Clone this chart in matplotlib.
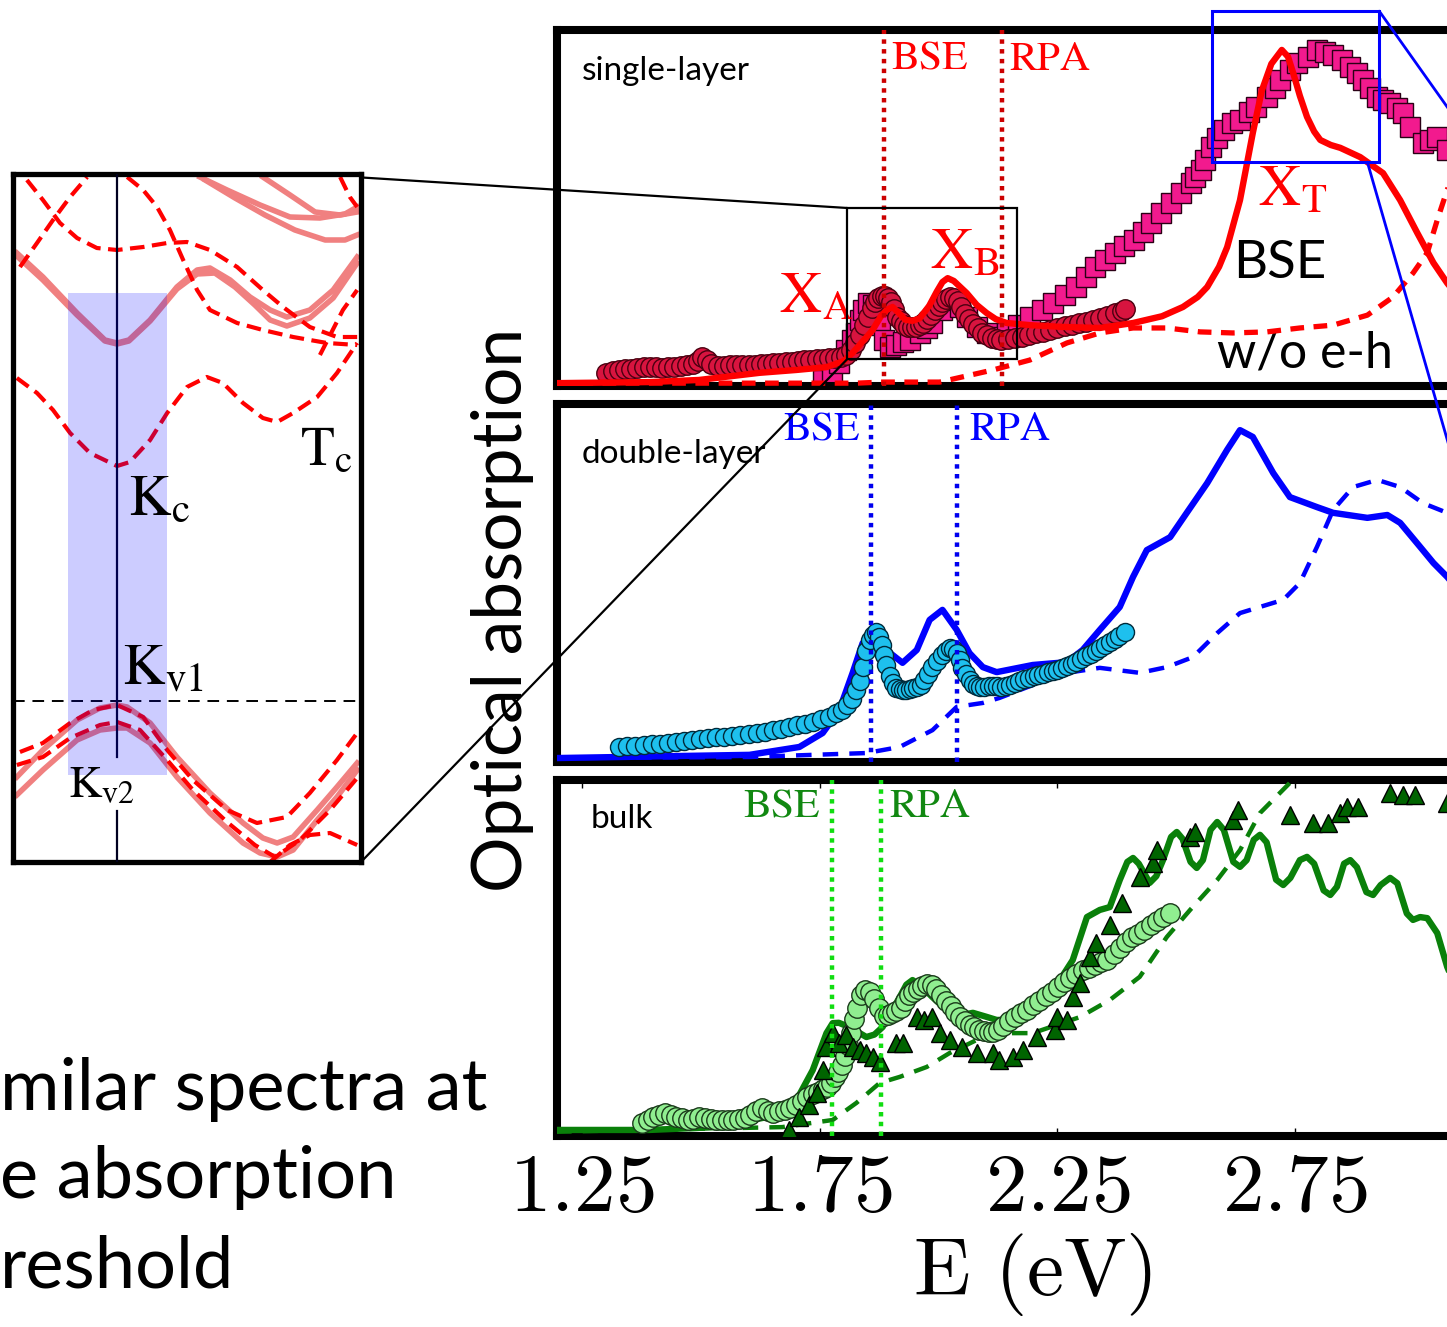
import matplotlib
matplotlib.use('Agg')
import matplotlib.pyplot as plt
from matplotlib.patches import Rectangle, ConnectionPatch

plt.rcParams['mathtext.fontset'] = 'cm'

# ---------------- data: single layer (energies in eV, absorption in panel units) ----
E1_bse = [1.195,1.391,1.496,1.623,1.700,1.764,1.800,1.819,1.840,1.861,
          1.878,1.890,1.903,1.916,1.930,1.945,1.960,1.980,1.996,2.008,
          2.019,2.032,2.059,2.080,2.101,2.120,2.143,2.192,2.260,2.339,
          2.409,2.470,2.514,2.545,2.565,2.590,2.607,2.634,2.661,2.680,
          2.700,2.722,2.735,2.746,2.760,2.775,2.790,2.803,2.825,2.845,
          2.887,2.935,2.971,3.007,3.041,3.070,3.10]
A1_bse = [0.008,0.011,0.017,0.037,0.045,0.053,0.070,0.093,0.125,0.157,
          0.195,0.213,0.222,0.205,0.186,0.183,0.190,0.225,0.265,0.292,
          0.303,0.295,0.261,0.228,0.205,0.188,0.177,0.171,0.166,0.163,
          0.177,0.196,0.222,0.250,0.278,0.335,0.390,0.522,0.711,0.830,
          0.905,0.944,0.925,0.879,0.815,0.756,0.715,0.691,0.677,0.669,
          0.643,0.598,0.522,0.430,0.346,0.289,0.24]
E1_rpa = [1.195,1.743,1.827,1.882,2.002,2.114,2.192,2.270,2.339,2.409,2.480,2.550,2.619,2.691,2.760,2.830,2.902,2.956,2.998,3.028,3.049,3.070,3.09]
A1_rpa = [0.008,0.008,0.008,0.011,0.011,0.045,0.073,0.121,0.149,0.163,0.163,0.152,0.149,0.152,0.163,0.171,0.199,0.250,0.317,0.374,0.466,0.551,0.62]
E1_circ = [1.301,1.314,1.327,1.340,1.353,1.366,1.379,1.392,1.405,1.418,
           1.431,1.444,1.457,1.470,1.483,1.494,1.503,1.512,1.522,1.535,
           1.548,1.561,1.574,1.587,1.600,1.613,1.626,1.639,1.652,1.665,
           1.678,1.691,1.704,1.717,1.730,1.743,1.756,1.769,1.782,1.795,
           1.806,1.816,1.825,1.834,1.843,1.851,1.859,1.866,1.873,1.880,
           1.887,1.893,1.899,1.905,1.912,1.920,1.928,1.936,1.944,1.952,
           1.960,1.968,1.976,1.984,1.992,2.000,2.008,2.016,2.024,2.032,
           2.040,2.048,2.056,2.064,2.072,2.082,2.092,2.102,2.112,2.122,
           2.132,2.145,2.160,2.175,2.190,2.205,2.220,2.235,2.250,2.265,
           2.280,2.295,2.310,2.325,2.340,2.355,2.370,2.385,2.392]
A1_circ = [0.037,0.042,0.045,0.047,0.048,0.050,0.052,0.053,0.052,0.051,
           0.052,0.054,0.056,0.058,0.061,0.070,0.081,0.072,0.063,0.057,
           0.057,0.058,0.059,0.059,0.059,0.060,0.061,0.062,0.064,0.066,
           0.067,0.068,0.070,0.072,0.074,0.076,0.077,0.079,0.080,0.082,
           0.088,0.100,0.120,0.143,0.170,0.195,0.218,0.235,0.246,0.252,
           0.252,0.246,0.235,0.215,0.195,0.182,0.172,0.167,0.166,0.167,
           0.170,0.178,0.188,0.200,0.213,0.225,0.236,0.245,0.250,0.248,
           0.238,0.222,0.203,0.187,0.175,0.162,0.150,0.142,0.136,0.131,
           0.129,0.131,0.135,0.139,0.143,0.148,0.152,0.157,0.162,0.168,
           0.172,0.176,0.181,0.186,0.191,0.197,0.204,0.211,0.216]
E1_sq = [1.756,1.775,1.791,1.806,1.817,1.827,1.834,1.840,1.851,1.861,1.869,1.876,1.884,1.897,1.911,1.924,1.939,1.960,1.975,1.987,2.008,2.029,2.044,2.059,2.080,2.101,2.128,2.143,2.166,2.192,2.217,2.240,2.265,2.288,2.309,2.328,2.349,2.370,2.391,2.412,2.429,2.446,2.467,2.488,2.509,2.530,2.540,2.551,2.561,2.572,2.586,2.601,2.618,2.634,2.653,2.668,2.691,2.708,2.718,2.739,2.754,2.777,2.796,2.813,2.830,2.849,2.866,2.880,2.893,2.908,2.922,2.935,2.949,2.964,2.977,2.992,3.019,3.034,3.049,3.070]
A1_sq = [0.017,0.031,0.065,0.101,0.129,0.149,0.185,0.213,0.233,0.228,0.199,0.171,0.129,0.110,0.115,0.124,0.129,0.149,0.163,0.177,0.213,0.242,0.222,0.194,0.166,0.149,0.138,0.149,0.171,0.194,0.213,0.233,0.256,0.278,0.306,0.334,0.354,0.374,0.393,0.410,0.433,0.458,0.486,0.514,0.542,0.570,0.587,0.607,0.635,0.671,0.697,0.719,0.739,0.747,0.770,0.784,0.812,0.837,0.860,0.888,0.907,0.924,0.944,0.938,0.930,0.916,0.896,0.879,0.860,0.837,0.812,0.803,0.795,0.781,0.767,0.728,0.683,0.691,0.699,0.663]
E1_gap = [1.886, 2.133]   # BSE, RPA onsets

# ---------------- data: double layer ----------------
E2_bse = [1.195,1.602,1.707,1.756,1.791,1.819,1.840,1.855,1.882,1.924,1.954,1.981,2.008,2.038,2.065,2.093,2.122,2.198,2.270,2.303,2.339,2.381,2.409,2.438,2.487,2.522,2.565,2.607,2.634,2.661,2.704,2.739,2.796,2.830,2.902,2.944,2.971,3.013,3.041,3.070,3.10]
A2_bse = [0.011,0.020,0.042,0.081,0.145,0.249,0.332,0.346,0.321,0.277,0.313,0.397,0.425,0.369,0.304,0.265,0.251,0.271,0.279,0.313,0.369,0.433,0.517,0.592,0.628,0.696,0.779,0.872,0.927,0.908,0.807,0.740,0.712,0.696,0.682,0.690,0.668,0.601,0.556,0.517,0.47]
E2_rpa = [1.195,1.602,1.848,1.918,1.987,2.038,2.093,2.128,2.198,2.270,2.339,2.423,2.480,2.535,2.586,2.634,2.725,2.760,2.796,2.830,2.872,2.923,2.971,3.019,3.070,3.10]
A2_rpa = [0.011,0.014,0.025,0.042,0.089,0.154,0.165,0.179,0.215,0.249,0.263,0.249,0.265,0.293,0.360,0.416,0.453,0.500,0.601,0.704,0.768,0.788,0.768,0.723,0.696,0.68]
E2_circ = [1.328,1.345,1.362,1.379,1.396,1.413,1.430,1.447,1.464,1.481,
           1.498,1.515,1.532,1.549,1.566,1.583,1.600,1.617,1.634,1.651,
           1.668,1.685,1.702,1.719,1.736,1.753,1.770,1.785,1.797,1.808,
           1.818,1.827,1.834,1.840,1.848,1.855,1.862,1.869,1.875,1.880,
           1.885,1.890,1.897,1.904,1.911,1.918,1.925,1.932,1.939,1.946,
           1.954,1.962,1.970,1.978,1.987,1.996,2.006,2.015,2.023,2.031,
           2.038,2.044,2.050,2.057,2.065,2.072,2.080,2.088,2.096,2.105,
           2.114,2.123,2.132,2.141,2.150,2.160,2.170,2.180,2.190,2.200,
           2.210,2.220,2.230,2.240,2.250,2.260,2.270,2.280,2.290,2.300,
           2.310,2.320,2.330,2.340,2.350,2.360,2.370,2.380,2.392]
A2_circ = [0.042,0.044,0.045,0.047,0.049,0.050,0.053,0.056,0.059,0.062,
           0.065,0.067,0.069,0.071,0.074,0.076,0.079,0.082,0.085,0.089,
           0.093,0.097,0.102,0.107,0.113,0.119,0.127,0.136,0.146,0.160,
           0.175,0.200,0.225,0.265,0.310,0.340,0.355,0.363,0.350,0.327,
           0.300,0.270,0.240,0.220,0.208,0.203,0.201,0.202,0.204,0.206,
           0.209,0.216,0.229,0.245,0.265,0.283,0.299,0.310,0.318,0.315,
           0.304,0.285,0.263,0.245,0.229,0.218,0.212,0.210,0.209,0.211,
           0.213,0.212,0.210,0.212,0.216,0.221,0.226,0.231,0.236,0.239,
           0.243,0.247,0.251,0.255,0.258,0.263,0.268,0.273,0.280,0.288,
           0.295,0.303,0.310,0.318,0.326,0.336,0.344,0.352,0.363]
E2_gap = [1.857, 2.038]

# ---------------- data: bulk ----------------
E3_bse = [1.195,1.391,1.532,1.638,1.701,1.735,1.764,1.777,1.790,1.812,
          1.848,1.865,1.882,1.918,1.932,1.945,1.960,1.987,2.023,2.050,
          2.072,2.100,2.122,2.150,2.185,2.219,2.255,2.282,2.312,2.339,
          2.360,2.381,2.397,2.409,2.421,2.444,2.458,2.472,2.489,2.501,
          2.513,2.530,2.543,2.556,2.572,2.586,2.600,2.620,2.634,2.648,
          2.663,2.676,2.690,2.710,2.725,2.740,2.760,2.775,2.790,2.810,
          2.824,2.838,2.853,2.866,2.880,2.900,2.914,2.930,2.950,2.965,
          2.985,2.998,3.013,3.028,3.049,3.070,3.10]
A3_bse = [0.017,0.017,0.025,0.053,0.101,0.185,0.289,0.317,0.318,0.306,
          0.278,0.285,0.306,0.390,0.425,0.438,0.425,0.390,0.346,0.340,
          0.346,0.335,0.326,0.326,0.334,0.402,0.438,0.494,0.615,0.635,
          0.643,0.719,0.770,0.781,0.765,0.711,0.730,0.775,0.840,0.854,
          0.835,0.770,0.753,0.775,0.860,0.882,0.860,0.770,0.756,0.775,
          0.832,0.846,0.825,0.720,0.705,0.725,0.775,0.784,0.765,0.690,
          0.677,0.700,0.765,0.775,0.755,0.685,0.677,0.705,0.725,0.710,
          0.625,0.607,0.615,0.612,0.570,0.475,0.38]
E3_rpa = [1.195,1.671,1.735,1.777,1.827,1.876,1.918,1.975,2.023,2.093,2.128,2.198,2.297,2.360,2.423,2.480,2.529,2.586,2.634,2.676,2.739,2.782]
A3_rpa = [0.012,0.025,0.037,0.045,0.093,0.149,0.166,0.194,0.233,0.278,0.289,0.289,0.334,0.382,0.447,0.559,0.635,0.719,0.803,0.907,0.992,1.042]
E3_circ = [1.376,1.388,1.400,1.412,1.424,1.436,1.448,1.460,1.472,1.484,
           1.496,1.508,1.520,1.532,1.544,1.556,1.568,1.580,1.592,1.604,
           1.616,1.628,1.640,1.652,1.664,1.676,1.688,1.700,1.712,1.724,
           1.736,1.746,1.756,1.765,1.773,1.781,1.789,1.796,1.803,1.809,
           1.815,1.821,1.828,1.836,1.845,1.855,1.865,1.875,1.884,1.893,
           1.902,1.911,1.920,1.929,1.938,1.947,1.956,1.965,1.975,1.985,
           1.995,2.005,2.015,2.025,2.035,2.045,2.055,2.065,2.075,2.085,
           2.095,2.105,2.115,2.125,2.135,2.147,2.160,2.173,2.186,2.199,
           2.212,2.225,2.238,2.251,2.264,2.277,2.290,2.303,2.316,2.329,
           2.342,2.355,2.368,2.381,2.394,2.407,2.420,2.433,2.446,2.459,
           2.472,2.487]
A3_circ = [0.037,0.045,0.053,0.060,0.065,0.060,0.054,0.050,0.046,0.048,
           0.053,0.051,0.048,0.046,0.045,0.045,0.045,0.047,0.051,0.058,
           0.070,0.078,0.070,0.066,0.069,0.073,0.080,0.088,0.098,0.110,
           0.118,0.125,0.131,0.138,0.150,0.165,0.180,0.200,0.225,0.255,
           0.290,0.330,0.360,0.395,0.410,0.405,0.385,0.360,0.336,0.340,
           0.346,0.352,0.360,0.380,0.396,0.405,0.412,0.420,0.428,0.425,
           0.412,0.395,0.378,0.364,0.348,0.334,0.322,0.312,0.305,0.298,
           0.294,0.292,0.292,0.298,0.310,0.322,0.334,0.345,0.355,0.368,
           0.380,0.392,0.405,0.418,0.432,0.445,0.456,0.466,0.473,0.480,
           0.488,0.495,0.512,0.528,0.544,0.558,0.568,0.579,0.594,0.604,
           0.614,0.626]
E3_tri = [1.686,1.707,1.728,1.743,1.756,1.764,1.777,1.791,1.806,1.819,1.834,1.848,1.861,1.876,1.911,1.924,1.954,1.970,1.987,2.002,2.023,2.050,2.080,2.114,2.128,2.156,2.177,2.206,2.244,2.248,2.270,2.282,2.297,2.318,2.332,2.360,2.385,2.423,2.451,2.459,2.529,2.539,2.619,2.630,2.739,2.788,2.819,2.845,2.860,2.883,2.950,2.977,3.003,3.070]
A3_tri = [0.017,0.053,0.087,0.121,0.185,0.250,0.289,0.261,0.284,0.250,0.242,0.233,0.222,0.208,0.261,0.261,0.334,0.326,0.334,0.289,0.270,0.250,0.233,0.233,0.213,0.222,0.242,0.278,0.298,0.334,0.326,0.390,0.430,0.503,0.542,0.593,0.654,0.728,0.767,0.803,0.840,0.854,0.888,0.916,0.902,0.879,0.879,0.907,0.924,0.924,0.963,0.958,0.958,0.935]
E3_gap = [1.775, 1.878]

x_ticks = [1.25, 1.75, 2.25, 2.75]
x_ticklabels = ['1.25', '1.75', '2.25', '2.75']

# ---------------- data: band structure inset (k in path units, E in eV) ----------
bands_solid = [
    ([0.011,0.086,0.184,0.264,0.299,0.333,0.394,0.471,0.529,0.566,0.624,0.681,0.739,0.787,0.853,0.920,0.989],
     [4.48,4.24,3.88,3.61,3.58,3.61,3.81,4.14,4.31,4.33,4.21,4.04,3.91,3.84,3.91,4.11,4.44]),
    ([0.011,0.086,0.184,0.264,0.299,0.333,0.394,0.471,0.529,0.580,0.638,0.695,0.739,0.787,0.853,0.920,0.989],
     [4.45,4.21,3.86,3.60,3.57,3.60,3.80,4.12,4.27,4.28,4.14,3.96,3.81,3.75,3.83,4.03,4.38]),
    ([0.537,0.615,0.710,0.796,0.882,0.954,0.989], [5.24,5.11,4.96,4.84,4.83,4.87,4.94]),
    ([0.718,0.796,0.868,0.940,0.989], [5.24,5.06,4.89,4.86,4.89]),
    ([0.552,0.638,0.724,0.810,0.897,0.954,0.989], [5.21,5.03,4.86,4.71,4.61,4.61,4.66]),
    ([0.011,0.086,0.184,0.25,0.299,0.328,0.394,0.471,0.566,0.661,0.718,0.759,0.805,0.874,0.931,0.989],
     [-0.76,-0.49,-0.19,-0.07,-0.04,-0.06,-0.22,-0.56,-0.92,-1.22,-1.37,-1.42,-1.36,-1.09,-0.86,-0.62]),
    ([0.011,0.086,0.184,0.25,0.299,0.328,0.394,0.471,0.566,0.661,0.710,0.759,0.805,0.874,0.931,0.989],
     [-0.94,-0.69,-0.39,-0.29,-0.27,-0.27,-0.42,-0.76,-1.12,-1.42,-1.52,-1.56,-1.49,-1.19,-0.96,-0.69]),
]
bands_dashed = [
    ([0.011,0.069,0.115,0.164,0.221,0.299,0.336,0.394,0.443,0.5,0.557,0.603,0.661,0.718,0.759,0.805,0.874,0.931,0.989],
     [3.23,3.08,2.91,2.68,2.48,2.35,2.39,2.61,2.88,3.14,3.24,3.18,2.98,2.83,2.79,2.88,3.04,3.28,3.58]),
    ([0.040,0.086,0.135,0.184,0.241,0.299,0.374,0.443,0.5,0.566,0.644,0.718,0.776,0.853,0.931,0.989],
     [5.21,5.01,4.78,4.63,4.53,4.51,4.54,4.58,4.59,4.51,4.34,4.11,3.94,3.74,3.64,3.64]),
    ([0.020,0.069,0.115,0.164,0.213], [4.34,4.58,4.81,5.04,5.24]),
    ([0.328,0.374,0.414,0.451,0.489,0.529,0.566,0.644,0.718,0.805,0.902,0.989],
     [5.24,5.11,4.94,4.71,4.41,4.11,3.91,3.78,3.71,3.64,3.58,3.56]),
    ([0.882,0.948,0.989], [3.46,3.91,4.11]),
    ([0.940,0.968,0.989], [5.24,5.04,4.94]),
    ([0.020,0.086,0.164,0.230,0.299,0.374,0.443,0.517,0.615,0.701,0.787,0.853,0.931,0.989],
     [-0.51,-0.42,-0.22,-0.09,-0.04,-0.16,-0.49,-0.79,-1.09,-1.22,-1.16,-0.92,-0.59,-0.32]),
    ([0.011,0.086,0.164,0.25,0.299,0.365,0.443,0.517,0.615,0.695,0.753,0.825,0.911,0.989],
     [-0.64,-0.56,-0.37,-0.24,-0.21,-0.29,-0.59,-0.89,-1.21,-1.44,-1.56,-1.39,-1.09,-0.77]),
    ([0.739,0.796,0.853,0.911,0.989], [-1.61,-1.44,-1.34,-1.32,-1.44]),
]
K_point = 0.299
window_k = (0.158, 0.443)
window_E = (-0.74, 4.08)

# ---------------- figure ----------------
W, H = 1447, 1327
fig = plt.figure(figsize=(W / 100, H / 100), dpi=100)

def fx(p):
    return p / W

def fy(p):
    return 1 - p / H

XL = (1.197, 3.20)
left, right = 557, 1509
ax1 = fig.add_axes([fx(left), fy(386), (right - left) / W, (386 - 30) / H])
ax2 = fig.add_axes([fx(left), fy(762), (right - left) / W, (762 - 404) / H])
ax3 = fig.add_axes([fx(left), fy(1136), (right - left) / W, (1136 - 780) / H])

for ax in (ax1, ax2, ax3):
    ax.set_xlim(*XL)
    ax.set_ylim(0, 1)
    for s in ax.spines.values():
        s.set_linewidth(5.8)
    ax.set_yticks([])
    ax.set_xticks([])

comic = 'Lato'
dot_ls = (0, (1.0, 1.2))
serif_fs = 30

# --- single layer ---
ax1.plot(E1_sq, A1_sq, ls='none', marker='s', ms=14, mfc='#f21a8e', mec='#2a0015', mew=1.0, zorder=2)
ax1.plot(E1_circ, A1_circ, ls='none', marker='o', ms=14, mfc='#d8143f', mec='#4a0010', mew=1.0, zorder=3)
ax1.plot(E1_bse, A1_bse, color='#ff0000', lw=4.6, zorder=4)
ax1.plot(E1_rpa, A1_rpa, color='#ff0000', lw=3.8, ls=(0, (2.6, 1.8)), zorder=4)
for e in E1_gap:
    ax1.axvline(e, color='#cc0000', lw=3.2, ls=dot_ls, zorder=5)
ax1.text(1.900, 0.888, 'BSE', color='#ff0000', fontsize=serif_fs, family='STIXGeneral')
ax1.text(2.149, 0.888, 'RPA', color='#ff0000', fontsize=serif_fs, family='STIXGeneral')
ax1.text(0.026, 0.86, 'single-layer', transform=ax1.transAxes, fontsize=24, family=comic)
ax1.text(1.665, 0.208, r'X$_\mathrm{A}$', color='#ff0000', fontsize=42, math_fontfamily='stix', family='STIXGeneral')
ax1.text(1.981, 0.331, r'X$_\mathrm{B}$', color='#ff0000', fontsize=42, math_fontfamily='stix', family='STIXGeneral')
ax1.text(2.672, 0.508, r'X$_\mathrm{T}$', color='#ff0000', fontsize=42, math_fontfamily='stix', family='STIXGeneral')
ax1.text(2.619, 0.303, 'BSE', fontsize=38, family=comic)
ax1.text(2.586, 0.051, 'w/o e-h', fontsize=36, family=comic)
ax1.add_patch(Rectangle((1.808, 0.076), 2.164 - 1.808, 0.5 - 0.076, fill=False, ec='black', lw=1.6, zorder=6))
ax1.add_patch(Rectangle((2.575, 0.629), 2.927 - 2.575, 1.053 - 0.629, fill=False, ec='#0000ff', lw=2.2, zorder=6, clip_on=False))

# --- double layer ---
ax2.plot(E2_bse, A2_bse, color='#0000ff', lw=4.6, zorder=3)
ax2.plot(E2_rpa, A2_rpa, color='#0000ff', lw=3.2, ls=(0, (3.5, 2.5)), zorder=3)
ax2.plot(E2_circ, A2_circ, ls='none', marker='o', ms=13, mfc='#1ec0ee', mec='#002a3a', mew=1.0, zorder=4)
for e in E2_gap:
    ax2.axvline(e, color='#0000ee', lw=3.2, ls=dot_ls, zorder=5)
ax2.text(1.833, 0.899, 'BSE', color='#0000ff', fontsize=serif_fs, family='STIXGeneral', ha='right')
ax2.text(2.065, 0.899, 'RPA', color='#0000ff', fontsize=serif_fs, family='STIXGeneral')
ax2.text(0.026, 0.835, 'double-layer', transform=ax2.transAxes, fontsize=24, family=comic)

# --- bulk ---
ax3.plot(E3_bse, A3_bse, color='#0a800a', lw=4.6, zorder=3)
ax3.plot(E3_rpa, A3_rpa, color='#0a800a', lw=3.2, ls=(0, (3.5, 2.5)), zorder=3)
ax3.plot(E3_circ, A3_circ, ls='none', marker='o', ms=14, mfc='#90ee90', mec='#1a3a1a', mew=1.0, zorder=4)
ax3.plot(E3_tri, A3_tri, ls='none', marker='^', ms=13, mfc='#006400', mec='black', mew=1.0, zorder=4)
for e in E3_gap:
    ax3.axvline(e, color='#11dd11', lw=3.2, ls=dot_ls, zorder=5)
ax3.text(1.749, 0.896, 'BSE', color='#118811', fontsize=serif_fs, family='STIXGeneral', ha='right')
ax3.text(1.897, 0.896, 'RPA', color='#118811', fontsize=serif_fs, family='STIXGeneral')
ax3.text(0.035, 0.865, 'bulk', transform=ax3.transAxes, fontsize=24, family=comic)

ax3.set_xticks(x_ticks)
ax3.set_xticklabels([r'$\mathrm{%s}$' % t for t in x_ticklabels])
ax3.tick_params(axis='x', direction='in', top=True, bottom=True, length=6, width=1, labelsize=60, pad=8)
ax3.set_xlabel(r'$\mathrm{E\ (eV)}$', fontsize=60, labelpad=2)

fig.text(fx(503), fy(610), 'Optical absorption', rotation=90, ha='center', va='center', fontsize=50, family=comic)

# --- band-structure inset ---
axb = fig.add_axes([fx(13), fy(862), (361 - 13) / W, (862 - 174) / H])
axb.set_xlim(0, 1)
axb.set_ylim(-1.61, 5.27)
axb.set_xticks([])
axb.set_yticks([])
for s in axb.spines.values():
    s.set_linewidth(3.8)
for k, e in bands_solid:
    axb.plot(k, e, color='#f08080', lw=4.0, zorder=2)
for k, e in bands_dashed:
    axb.plot(k, e, color='#ff0000', lw=3.0, ls=(0, (3.5, 1.8)), zorder=2)
axb.axhline(0, color='black', lw=1.4, ls=(0, (6, 4)), zorder=3)
axb.plot([K_point, K_point], [5.27, -0.56], color='#000020', lw=1.6, zorder=3)
axb.plot([K_point, K_point], [-1.10, -1.61], color='#000020', lw=1.6, zorder=3)
axb.add_patch(Rectangle((window_k[0], window_E[0]), window_k[1] - window_k[0], window_E[1] - window_E[0],
                        fc=(0, 0, 1, 0.2), ec='none', zorder=4))
axb.text(0.825, 2.36, r'T$_\mathrm{c}$', fontsize=40, math_fontfamily='stix', family='STIXGeneral', zorder=5)
axb.text(0.33, 1.86, r'K$_\mathrm{c}$', fontsize=42, math_fontfamily='stix', family='STIXGeneral', zorder=5)
axb.text(0.313, 0.16, r'K$_\mathrm{v1}$', fontsize=42, math_fontfamily='stix', family='STIXGeneral', zorder=5)
axb.text(0.158, -0.96, r'K$_\mathrm{v2}$', fontsize=33, math_fontfamily='stix', family='STIXGeneral', zorder=5)

# zoom connectors
for ya, yb in ((0.995, 0.5), (0.0, 0.076)):
    cp = ConnectionPatch(xyA=(1.0, ya), coordsA=axb.transAxes, xyB=(1.808, yb), coordsB=ax1.transData,
                         color='black', lw=1.6, zorder=10)
    fig.add_artist(cp)
cp = ConnectionPatch(xyA=(2.927, 1.053), coordsA=ax1.transData, xyB=(3.20, 0.539), coordsB=ax1.transData,
                     color='#0000ff', lw=2.0, zorder=10)
fig.add_artist(cp)
cp = ConnectionPatch(xyA=(2.902, 0.629), coordsA=ax1.transData, xyB=(3.15, -0.522), coordsB=ax1.transData,
                     color='#0000ff', lw=2.0, zorder=10)
fig.add_artist(cp)

# left caption (cropped in original)
fig.text(0.0, fy(1110), 'milar spectra at', fontsize=52, family=comic)
fig.text(0.0, fy(1198), 'e absorption', fontsize=52, family=comic)
fig.text(0.0, fy(1288), 'reshold', fontsize=52, family=comic)

fig.savefig('out.png', dpi=100)
